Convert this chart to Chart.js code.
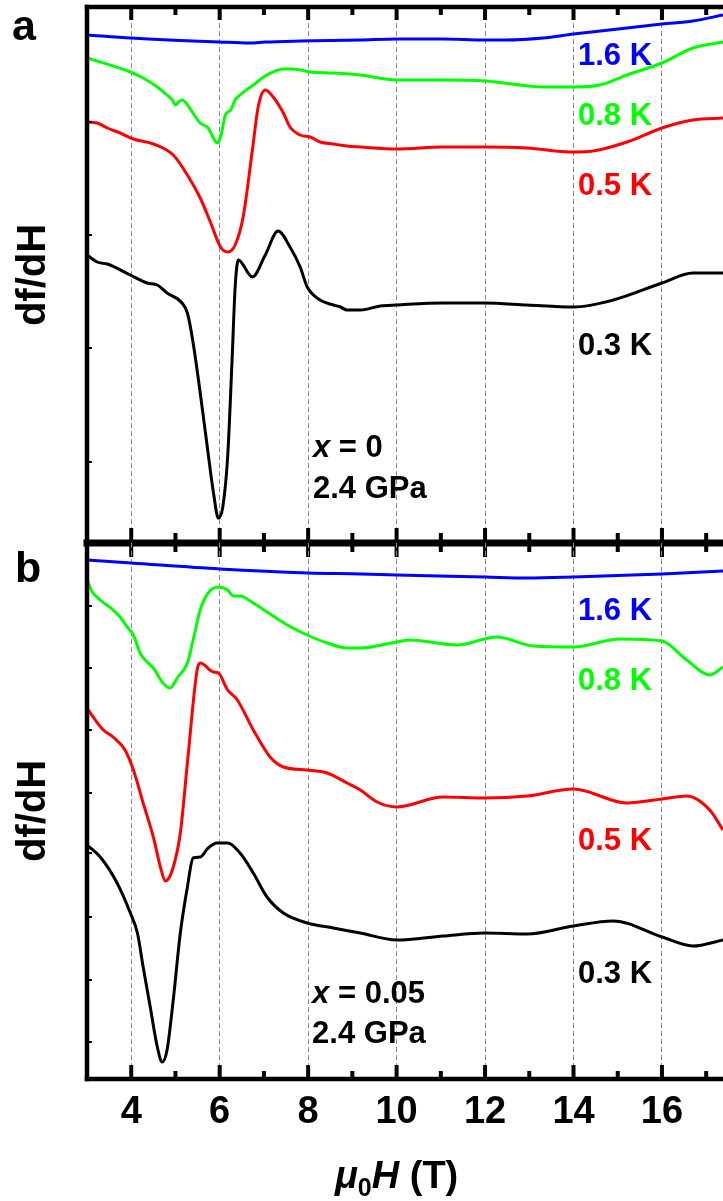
<!DOCTYPE html>
<html>
<head>
<meta charset="utf-8">
<script src="https://cdn.jsdelivr.net/npm/chart.js@4.4.1/dist/chart.umd.min.js"></script>
<style>
  html, body { margin: 0; padding: 0; background: #fff; }
  #wrap { position: relative; width: 723px; height: 1201px; overflow: hidden; }
  #wrap canvas { position: absolute; left: 0; top: 0; }
</style>
</head>
<body>
<div id="wrap">
  <canvas id="chartA" width="723" height="1201"></canvas>
  <canvas id="chartB" width="723" height="1201"></canvas>
</div>
<script>
// Field axis (T)
const fieldMin = 3;
const fieldMax = 17.38;

// Panel a: x = 0, 2.4 GPa (df/dH, arb. units, curves offset)
const fieldA16 = [3.0, 4.0, 6.0, 6.69, 7.03, 7.82, 9.18, 10.0, 11.05, 12.0, 12.45, 13.31, 14.0, 15.21, 16.0, 16.7, 17.38];
const dfA16 = [5.40, 5.37, 5.33, 5.32, 5.33, 5.34, 5.35, 5.36, 5.36, 5.35, 5.35, 5.37, 5.41, 5.47, 5.51, 5.54, 5.60];

const fieldA08 = [3.0, 3.98, 4.27, 4.59, 4.81, 4.93, 5.0, 5.07, 5.15, 5.22, 5.38, 5.56, 5.74, 5.86, 5.94, 6.02, 6.13, 6.25, 6.35, 6.46, 6.76, 7.07, 7.44, 7.66, 8.05, 8.57, 9.18, 10.0, 11.05, 12.0, 13.31, 14.0, 14.6, 15.21, 16.0, 16.7, 17.38];
const dfA08 = [5.17, 5.03, 4.97, 4.88, 4.80, 4.75, 4.70, 4.73, 4.75, 4.73, 4.63, 4.52, 4.47, 4.37, 4.32, 4.38, 4.60, 4.65, 4.75, 4.80, 4.90, 5.00, 5.06, 5.06, 5.03, 5.02, 5.00, 4.95, 4.95, 4.94, 4.88, 4.88, 4.90, 5.00, 5.12, 5.27, 5.33];

const fieldA05 = [3.0, 3.23, 3.46, 3.75, 4.05, 4.50, 4.95, 5.27, 5.56, 5.79, 6.02, 6.18, 6.35, 6.53, 6.74, 6.87, 7.03, 7.21, 7.44, 7.59, 7.82, 8.05, 8.27, 8.57, 8.88, 9.18, 10.0, 11.05, 12.0, 12.95, 14.0, 14.44, 15.21, 16.0, 16.7, 17.38];
const dfA05 = [4.53, 4.52, 4.47, 4.42, 4.36, 4.31, 4.20, 4.00, 3.77, 3.53, 3.28, 3.23, 3.30, 3.58, 4.25, 4.68, 4.85, 4.78, 4.62, 4.48, 4.40, 4.38, 4.33, 4.31, 4.29, 4.28, 4.26, 4.28, 4.28, 4.27, 4.23, 4.24, 4.33, 4.47, 4.55, 4.57];

const fieldA03 = [3.0, 3.23, 3.46, 3.98, 4.36, 4.59, 4.81, 5.15, 5.27, 5.40, 5.56, 5.72, 5.86, 5.97, 6.07, 6.18, 6.28, 6.35, 6.42, 6.74, 7.03, 7.32, 7.59, 7.82, 7.98, 8.27, 8.57, 8.73, 8.88, 9.18, 9.63, 10.0, 11.05, 12.0, 12.95, 14.0, 14.9, 16.0, 16.7, 17.38];
const dfA03 = [3.20, 3.13, 3.11, 3.00, 2.92, 2.90, 2.82, 2.72, 2.62, 2.32, 1.82, 1.28, 0.82, 0.57, 0.68, 1.18, 2.15, 2.88, 3.15, 2.98, 3.20, 3.44, 3.28, 3.08, 2.88, 2.75, 2.70, 2.68, 2.65, 2.65, 2.69, 2.70, 2.72, 2.72, 2.70, 2.68, 2.75, 2.92, 3.02, 3.02];

// Panel b: x = 0.05, 2.4 GPa
const fieldB16 = [3.0, 4.0, 6.0, 8.0, 9.18, 10.0, 12.0, 12.95, 14.0, 16.0, 17.38];
const dfB16 = [5.40, 5.37, 5.31, 5.27, 5.26, 5.25, 5.23, 5.22, 5.23, 5.26, 5.29];

const fieldB08 = [3.0, 3.12, 3.30, 3.59, 3.75, 3.91, 4.05, 4.20, 4.36, 4.50, 4.72, 4.88, 5.04, 5.27, 5.40, 5.56, 5.74, 5.97, 6.18, 6.31, 6.46, 6.76, 7.07, 7.53, 7.98, 8.43, 8.88, 9.18, 10.0, 10.3, 11.37, 12.27, 13.09, 14.0, 15.05, 16.0, 16.56, 17.08, 17.38];
const dfB08 = [5.20, 5.08, 5.00, 4.90, 4.83, 4.73, 4.65, 4.47, 4.38, 4.32, 4.17, 4.12, 4.22, 4.37, 4.60, 4.90, 5.07, 5.13, 5.10, 5.04, 5.04, 4.97, 4.88, 4.75, 4.65, 4.57, 4.52, 4.52, 4.58, 4.60, 4.55, 4.63, 4.54, 4.53, 4.61, 4.59, 4.40, 4.25, 4.33];

const fieldB05 = [3.0, 3.14, 3.37, 3.59, 3.86, 4.05, 4.27, 4.50, 4.66, 4.77, 4.93, 5.11, 5.27, 5.49, 5.56, 5.86, 5.97, 6.18, 6.40, 6.76, 7.14, 7.44, 7.98, 8.43, 8.88, 9.18, 9.56, 10.0, 11.05, 12.0, 12.95, 14.0, 15.21, 16.0, 16.56, 17.08, 17.38];
const dfB05 = [3.92, 3.83, 3.70, 3.63, 3.50, 3.30, 2.97, 2.63, 2.33, 2.19, 2.30, 2.67, 3.37, 4.30, 4.37, 4.28, 4.27, 4.10, 4.00, 3.70, 3.43, 3.33, 3.30, 3.27, 3.17, 3.10, 2.98, 2.93, 3.03, 3.02, 3.04, 3.11, 2.97, 3.01, 3.04, 2.90, 2.70];

const fieldB03 = [3.0, 3.30, 3.68, 3.98, 4.14, 4.27, 4.43, 4.59, 4.70, 4.81, 4.95, 5.11, 5.27, 5.40, 5.56, 5.74, 5.94, 6.18, 6.46, 6.76, 7.07, 7.44, 7.98, 8.57, 9.18, 10.0, 11.05, 12.0, 12.95, 14.0, 14.9, 16.0, 16.7, 17.38];
const dfB03 = [2.55, 2.43, 2.17, 1.87, 1.67, 1.33, 0.93, 0.53, 0.38, 0.50, 1.00, 1.67, 2.13, 2.42, 2.43, 2.52, 2.57, 2.57, 2.47, 2.27, 2.03, 1.87, 1.77, 1.72, 1.67, 1.60, 1.64, 1.67, 1.66, 1.74, 1.79, 1.63, 1.54, 1.60];

// Unlabelled y tick positions
const tickDfA = [1.13, 2.27, 3.40, 4.53];
const tickDfB = [0.58, 1.20, 1.83, 2.47, 3.07, 3.70, 4.32, 4.94];

const tempLabels = ['1.6 K', '0.8 K', '0.5 K', '0.3 K'];
const tempColors = ['#0000ff', '#00ff00', '#ff0000', '#000000'];

const FONT = "'Liberation Sans', Arial, Helvetica, sans-serif";

function toPoints(xs, ys) {
    return xs.map((x, i) => ({ x: x, y: ys[i] }));
}

function buildDatasets(series) {
    return series.map((s, i) => ({
        label: tempLabels[i],
        data: toPoints(s[0], s[1]),
        borderColor: tempColors[i],
        borderWidth: 3,
        fill: false
    }));
}

/**
 * Draws the heavy frame and the inward tick marks of each panel.
 */
const frameTicks = {
    id: 'frameTicks',
    afterDatasetsDraw(chart, args, opts) {
        const { ctx, chartArea: area, scales: { x, y } } = chart;
        ctx.save();
        ctx.strokeStyle = '#000';
        ctx.lineCap = 'butt';

        // x ticks
        ctx.lineWidth = 4;
        x.ticks.forEach(t => {
            if (t.value <= fieldMin) return;
            const px = x.getPixelForValue(t.value);
            const major = t.value % 2 === 0;
            ctx.beginPath();
            if (opts.topTicks) {
                ctx.moveTo(px, area.top);
                ctx.lineTo(px, area.top + (major ? 13 : 8));
            }
            if (opts.bottomTicks === 'both') {
                ctx.moveTo(px, area.bottom - (major ? 15 : 10));
                ctx.lineTo(px, area.bottom + (major ? 14 : 9));
            } else if (opts.bottomTicks === 'in') {
                ctx.moveTo(px, area.bottom);
                ctx.lineTo(px, area.bottom - (major ? 14 : 8));
            }
            ctx.stroke();
        });

        // y ticks (unlabelled)
        ctx.lineWidth = 2;
        opts.yTicks.forEach(v => {
            const py = y.getPixelForValue(v);
            ctx.beginPath();
            ctx.moveTo(area.left, py);
            ctx.lineTo(area.left + 5, py);
            ctx.stroke();
        });

        // frame lines
        ctx.lineCap = 'square';
        ctx.lineWidth = 4.5;
        ctx.beginPath();
        ctx.moveTo(area.left, area.top);
        ctx.lineTo(area.left, area.bottom);
        ctx.stroke();
        if (opts.topLine) {
            ctx.beginPath();
            ctx.moveTo(area.left, area.top);
            ctx.lineTo(area.right + 5, area.top);
            ctx.stroke();
        }
        ctx.lineWidth = opts.bottomWidth;
        ctx.beginPath();
        ctx.moveTo(area.left, area.bottom);
        ctx.lineTo(area.right + 5, area.bottom);
        ctx.stroke();
        ctx.restore();
    }
};

/**
 * Draws a run of text pieces (some italic / subscript) starting at px.
 */
function drawParts(ctx, parts, px, py, size, color) {
    let cx = px;
    parts.forEach(p => {
        const s = p.sub ? Math.round(size * 0.66) : size;
        ctx.font = (p.italic ? 'italic ' : '') + 'bold ' + s + 'px ' + FONT;
        ctx.fillStyle = color;
        ctx.fillText(p.t, cx, py + (p.sub ? size * 0.22 : 0));
        cx += ctx.measureText(p.t).width;
    });
    return cx - px;
}

function partsWidth(ctx, parts, size) {
    let w = 0;
    parts.forEach(p => {
        const s = p.sub ? Math.round(size * 0.66) : size;
        ctx.font = (p.italic ? 'italic ' : '') + 'bold ' + s + 'px ' + FONT;
        w += ctx.measureText(p.t).width;
    });
    return w;
}

/**
 * Panel letter, temperature labels, sample annotation and the x title.
 */
const textLayer = {
    id: 'textLayer',
    afterDraw(chart, args, opts) {
        const { ctx, chartArea: area, scales: { x, y } } = chart;
        ctx.save();
        ctx.textBaseline = 'alphabetic';
        ctx.textAlign = 'left';

        ctx.fillStyle = '#000';
        ctx.font = 'bold 43px ' + FONT;
        ctx.fillText(opts.letter, opts.letterX, area.top + opts.letterDy);

        opts.temps.forEach((v, i) => {
            ctx.font = 'bold 31px ' + FONT;
            ctx.fillStyle = tempColors[i];
            ctx.fillText(tempLabels[i], x.getPixelForValue(opts.tempX), y.getPixelForValue(v));
        });

        const nx = x.getPixelForValue(opts.noteX);
        drawParts(ctx, [{ t: 'x', italic: true }, { t: ' = ' + opts.doping }], nx, y.getPixelForValue(opts.noteY[0]), 31, '#000');
        drawParts(ctx, [{ t: '2.4 GPa' }], nx, y.getPixelForValue(opts.noteY[1]), 31, '#000');

        if (opts.xTitle) {
            const parts = [{ t: '\u03bc', italic: true }, { t: '0', sub: true }, { t: 'H', italic: true }, { t: ' (T)' }];
            const w = partsWidth(ctx, parts, 38);
            drawParts(ctx, parts, x.getPixelForValue(10) - w / 2, area.bottom + 109, 38, '#000');
        }
        ctx.restore();
    }
};

function gridColorFor(ctx) {
    const v = ctx.tick ? ctx.tick.value : null;
    return (v !== null && v % 2 === 0 && v > fieldMin) ? '#8a8a8a' : 'rgba(0,0,0,0)';
}

function makeChart(canvasId, datasets, cfg) {
    return new Chart(document.getElementById(canvasId), {
        type: 'line',
        data: { datasets: datasets },
        options: {
            responsive: false,
            animation: false,
            layout: { padding: cfg.padding },
            elements: {
                point: { radius: 0 },
                line: { cubicInterpolationMode: 'monotone' }
            },
            plugins: {
                legend: { display: false },
                tooltip: { enabled: false },
                frameTicks: cfg.frame,
                textLayer: cfg.text
            },
            scales: {
                x: {
                    type: 'linear',
                    min: fieldMin,
                    max: fieldMax,
                    afterFit: s => { s.height = cfg.xHeight; },
                    border: { display: false, dash: [5, 3] },
                    grid: { drawTicks: false, lineWidth: 1, color: gridColorFor },
                    ticks: {
                        display: cfg.showXLabels,
                        stepSize: 1,
                        includeBounds: false,
                        autoSkip: false,
                        maxRotation: 0,
                        padding: 11,
                        color: '#000',
                        font: { family: FONT, size: 38, weight: 'bold' },
                        callback: v => (v % 2 === 0 ? String(v) : '')
                    }
                },
                y: {
                    type: 'linear',
                    min: cfg.yMin,
                    max: cfg.yMax,
                    afterFit: s => { s.width = 87; },
                    border: { display: false },
                    grid: { display: false },
                    ticks: { display: false },
                    title: {
                        display: true,
                        text: 'df/dH',
                        color: '#000',
                        font: { family: FONT, size: 40, weight: 'bold' },
                        padding: { top: 10, bottom: 0 }
                    }
                }
            }
        },
        plugins: [frameTicks, textLayer]
    });
}

document.addEventListener('DOMContentLoaded', function () {
    makeChart('chartA', buildDatasets([
        [fieldA16, dfA16], [fieldA08, dfA08], [fieldA05, dfA05], [fieldA03, dfA03]
    ]), {
        padding: { top: 7, bottom: 658, left: 0, right: 0 },
        xHeight: 0,
        showXLabels: false,
        yMin: 0.32,
        yMax: 5.68,
        frame: { topTicks: true, topLine: true, bottomTicks: 'both', bottomWidth: 7, yTicks: tickDfA },
        text: {
            letter: 'a', letterX: 12, letterDy: 33,
            temps: [5.10, 4.50, 3.80, 2.20], tempX: 14.1,
            noteX: 8.11, noteY: [1.18, 0.77], doping: '0',
            xTitle: false
        }
    });

    makeChart('chartB', buildDatasets([
        [fieldB16, dfB16], [fieldB08, dfB08], [fieldB05, dfB05], [fieldB03, dfB03]
    ]), {
        padding: { top: 543, bottom: 0, left: 0, right: 0 },
        xHeight: 122,
        showXLabels: true,
        yMin: 0.21,
        yMax: 5.57,
        frame: { topTicks: false, topLine: false, bottomTicks: 'in', bottomWidth: 4.5, yTicks: tickDfB },
        text: {
            letter: 'b', letterX: 15, letterDy: 39,
            temps: [4.80, 4.10, 2.50, 1.17], tempX: 14.1,
            noteX: 8.09, noteY: [0.97, 0.57], doping: '0.05',
            xTitle: true
        }
    });
});
</script>
</body>
</html>
